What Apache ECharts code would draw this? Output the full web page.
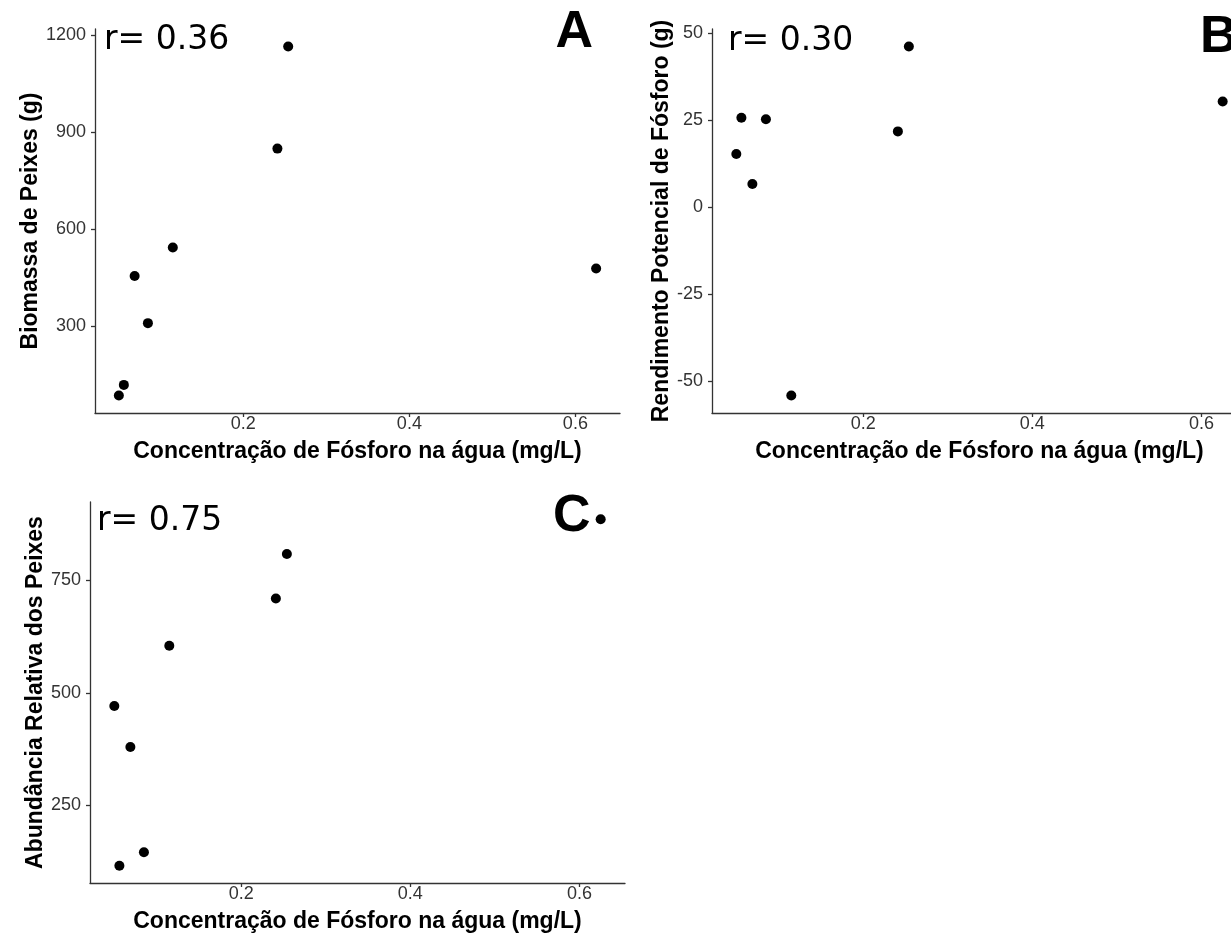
<!DOCTYPE html>
<html>
<head>
<meta charset="utf-8">
<script src="https://cdn.jsdelivr.net/npm/echarts@6/dist/echarts.min.js"></script>
<style>
  html, body { margin: 0; padding: 0; background: #fff; overflow: hidden; }
</style>
</head>
<body>
<!-- painel B sai um pouco pela direita, como na figura original -->
<div id="chart" style="width: 1260px;height:934px;"></div>
<script>
// mesmos pontos (8 viveiros) nos tres paineis
var xConc = [0.050, 0.056, 0.069, 0.085, 0.115, 0.241, 0.254, 0.625];
var yBiomassa = [85, 118, 455, 309, 543, 849, 1165, 478];
var yRendimento = [15.2, 25.6, 6.6, 25.2, -54.2, 21.7, 46.1, 30.3];
var yAbundancia = [471, 116, 380, 146, 605, 710, 809, 886];

var xTicks = [0.2, 0.4, 0.6];
var yTicksA = [300, 600, 900, 1200];
var yTicksB = [-50, -25, 0, 25, 50];
var yTicksC = [250, 500, 750];

var xTitle = "Concentração de Fósforo na água (mg/L)";

// expansao de 5% como no ggplot
function expand(arr) {
  var lo = Math.min.apply(null, arr);
  var hi = Math.max.apply(null, arr);
  var d = (hi - lo) * 0.05;
  return [lo - d, hi + d];
}

function pairs(xs, ys) {
  var out = [];
  for (var i = 0; i < xs.length; i++) out.push([xs[i], ys[i]]);
  return out;
}

var axisLineStyle = { color: "#333", width: 1.3 };
var tickLabel = {
  color: "#333",
  fontSize: 18,
  fontFamily: "Liberation Sans",
  formatter: function (v) { return String(v); }
};
var nameStyle = {
  color: "#000",
  fontSize: 23,
  fontWeight: "bold",
  fontFamily: "Liberation Sans"
};

function xAxisOf(idx) {
  var r = expand(xConc);
  return {
    type: "value",
    gridIndex: idx,
    min: r[0],
    max: r[1],
    name: xTitle,
    nameLocation: "middle",
    nameGap: 27,
    nameTextStyle: nameStyle,
    axisLine: { show: true, onZero: false, lineStyle: axisLineStyle },
    axisTick: { show: true, length: 4, customValues: xTicks, lineStyle: axisLineStyle },
    axisLabel: Object.assign({ margin: 2, customValues: xTicks }, tickLabel),
    splitLine: { show: false }
  };
}

function yAxisOf(idx, ys, ticks, title, gap) {
  var r = expand(ys);
  return {
    type: "value",
    gridIndex: idx,
    min: r[0],
    max: r[1],
    name: title,
    nameLocation: "middle",
    nameGap: gap,
    nameTextStyle: nameStyle,
    axisLine: { show: true, onZero: false, lineStyle: axisLineStyle },
    axisTick: { show: true, length: 4, customValues: ticks, lineStyle: axisLineStyle },
    axisLabel: Object.assign({ margin: 9, customValues: ticks }, tickLabel),
    splitLine: { show: false }
  };
}

function serie(idx, ys) {
  return {
    type: "scatter",
    xAxisIndex: idx,
    yAxisIndex: idx,
    symbol: "circle",
    symbolSize: 10,
    itemStyle: { color: "#000", opacity: 1 },
    data: pairs(xConc, ys)
  };
}

var rFont = { fontSize: 33, fontFamily: "DejaVu Sans", fill: "#000", verticalAlign: "middle" };
var letterFont = { fontSize: 52, fontWeight: "bold", fontFamily: "Liberation Sans", fill: "#000", verticalAlign: "middle" };

function txt(x, y, s, st, align) {
  return {
    type: "text",
    x: x,
    y: y,
    style: Object.assign({ text: s, align: align || "left" }, st)
  };
}

var myChart = echarts.init(document.getElementById("chart"));
var option = {
  backgroundColor: "#fff",
  animation: false,
  grid: [
    { left: 95, top: 29, width: 525, height: 384 },
    { left: 712, top: 29, width: 535, height: 384 },
    { left: 90, top: 502, width: 535, height: 383 }
  ],
  xAxis: [xAxisOf(0), xAxisOf(1), xAxisOf(2)],
  yAxis: [
    yAxisOf(0, yBiomassa, yTicksA, "Biomassa de Peixes (g)", 45),
    yAxisOf(1, yRendimento, yTicksB, "Rendimento Potencial de Fósforo (g)", 34),
    yAxisOf(2, yAbundancia, yTicksC, "Abundância Relativa dos Peixes", 41)
  ],
  series: [serie(0, yBiomassa), serie(1, yRendimento), serie(2, yAbundancia)],
  graphic: [
    txt(104, 40, "r= 0.36", rFont),
    txt(728, 41, "r= 0.30", rFont),
    txt(97, 521, "r= 0.75", rFont),
    txt(593, 33, "A", letterFont, "right"),
    txt(1200, 38, "B", letterFont),
    txt(553, 517, "C", letterFont)
  ]
};
myChart.setOption(option, true);
</script>
</body>
</html>
